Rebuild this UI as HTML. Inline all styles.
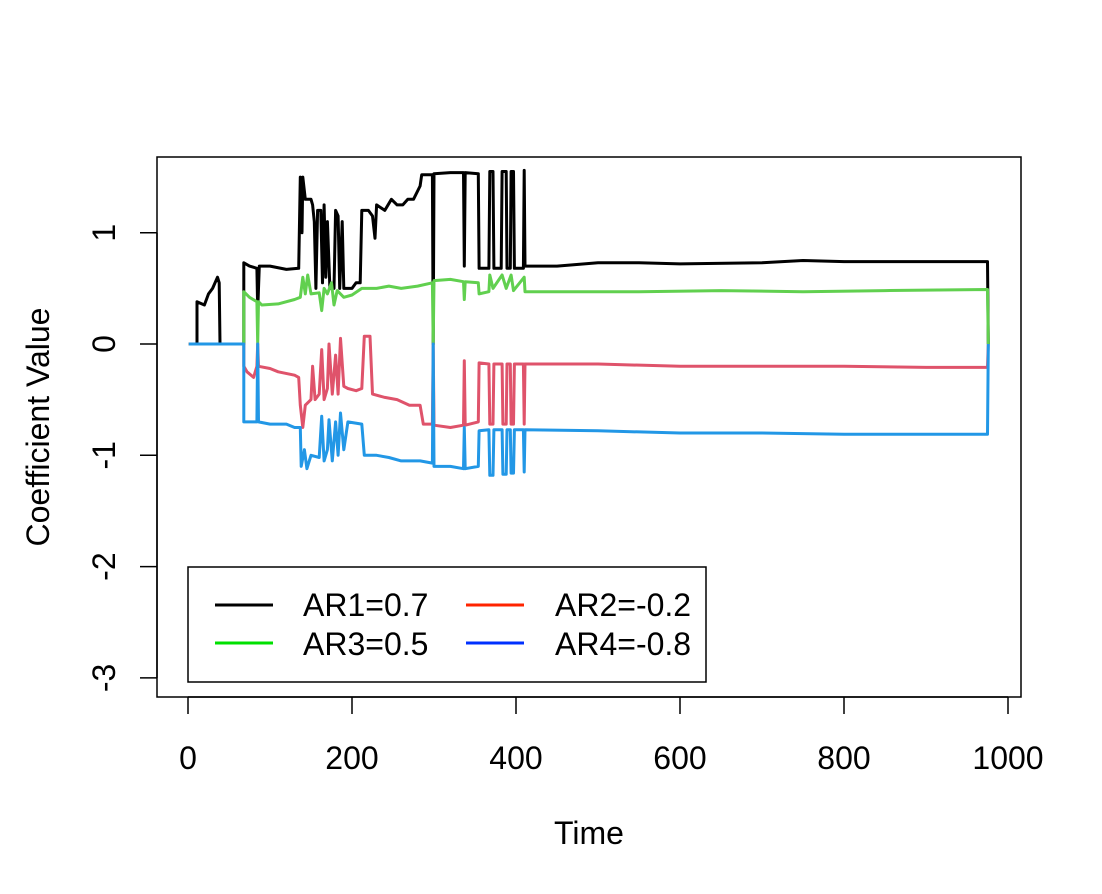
<!DOCTYPE html>
<html><head><meta charset="utf-8"><style>
html,body{margin:0;padding:0;background:#fff;}
svg{display:block;font-family:"Liberation Sans",Arial,sans-serif;}
</style></head><body>
<svg id="chart" width="1102" height="894" viewBox="0 0 1102 894" xmlns="http://www.w3.org/2000/svg">
<rect x="157" y="157" width="864" height="540" fill="none" stroke="#000" stroke-width="1.5"/>
<g id="axes"></g>
<g id="series"></g>
<text x="589" y="844" text-anchor="middle" font-size="32">Time</text>
<text transform="translate(49,427) rotate(-90)" text-anchor="middle" font-size="32">Coefficient Value</text>
<g>
<rect x="188" y="567" width="518" height="115" fill="#fff" stroke="#000" stroke-width="1.5"/>
<g><line x1="215" y1="605" x2="273" y2="605" stroke="#000" stroke-width="3"/><text x="303" y="616" font-size="32">AR1=0.7</text></g>
<g><line x1="466" y1="605" x2="524" y2="605" stroke="#FF2400" stroke-width="3"/><text x="555" y="616" font-size="32">AR2=-0.2</text></g>
<g><line x1="215" y1="643" x2="273" y2="643" stroke="#00E000" stroke-width="3"/><text x="303" y="655" font-size="32">AR3=0.5</text></g>
<g><line x1="466" y1="643" x2="524" y2="643" stroke="#0030FF" stroke-width="3"/><text x="555" y="655" font-size="32">AR4=-0.8</text></g>
</g>
</svg>
<script>
const xTicks=[0,200,400,600,800,1000];
const yTicks=[1,0,-1,-2,-3];
const ar1T=[1,11,11,20,25,30,36,38,39,68,68,75,84,85,87,100,120,135,137,139,140,143,150,152,154,156,158,162,164,166,168,170,173,178,180,183,185,188,190,200,205,210,212,220,225,228,230,240,248,255,262,268,275,283,285,298,299,300,320,336,337,338,354,355,367,368,372,373,382,383,388,389,393,394,397,398,409,410,411,450,500,550,600,700,750,800,900,975,976];
const ar1V=[0,0,0.38,0.35,0.45,0.5,0.6,0.55,0,0,0.73,0.7,0.68,0.3,0.7,0.7,0.67,0.68,1.5,1.0,1.5,1.3,1.3,1.25,1.1,0.5,1.2,1.2,0.55,1.25,0.6,1.1,0.5,0.5,1.2,1.15,0.5,1.1,0.5,0.5,0.55,0.55,1.2,1.2,1.15,0.95,1.25,1.2,1.3,1.25,1.25,1.3,1.3,1.42,1.52,1.52,0,1.53,1.54,1.54,0.7,1.54,1.53,0.68,0.68,1.55,1.55,0.68,0.68,1.55,1.55,0.68,0.68,1.55,1.55,0.68,0.68,1.56,0.7,0.7,0.73,0.73,0.72,0.73,0.75,0.74,0.74,0.74,0];
const ar3T=[1,68,68,75,84,85,86,90,110,130,137,140,143,146,150,160,163,166,170,175,178,182,190,200,212,230,245,260,280,298,299,300,320,336,337,338,354,355,367,368,372,383,388,394,397,410,411,450,550,650,750,850,975,976];
const ar3V=[0,0,0.47,0.42,0.38,0,0.38,0.35,0.36,0.4,0.42,0.6,0.45,0.62,0.45,0.46,0.3,0.5,0.45,0.55,0.35,0.48,0.42,0.44,0.5,0.5,0.52,0.5,0.52,0.55,0,0.57,0.58,0.56,0.4,0.56,0.55,0.45,0.47,0.62,0.5,0.62,0.5,0.62,0.48,0.6,0.47,0.47,0.47,0.48,0.47,0.48,0.49,0];
const ar2T=[1,68,68,72,80,84,85,86,100,110,130,135,137,140,143,150,152,155,160,163,166,170,172,176,180,183,186,190,195,205,212,215,222,225,240,255,270,283,287,298,299,300,320,336,337,338,354,355,367,368,372,373,383,384,388,389,393,394,397,398,409,410,411,500,600,700,800,900,975,976];
const ar2V=[0,0,-0.2,-0.25,-0.3,-0.2,0,-0.2,-0.22,-0.25,-0.28,-0.3,-0.55,-0.75,-0.55,-0.5,-0.2,-0.5,-0.45,-0.05,-0.5,-0.4,0,-0.45,-0.1,-0.45,0.05,-0.38,-0.4,-0.42,-0.4,0.07,0.07,-0.45,-0.48,-0.5,-0.55,-0.55,-0.72,-0.72,0,-0.73,-0.75,-0.73,-0.15,-0.73,-0.7,-0.17,-0.18,-0.72,-0.72,-0.18,-0.18,-0.72,-0.72,-0.18,-0.18,-0.72,-0.72,-0.18,-0.18,-0.72,-0.18,-0.18,-0.2,-0.2,-0.2,-0.21,-0.21,0];
const ar4T=[1,68,68,84,85,86,100,120,130,137,138,142,145,150,160,163,166,170,172,176,180,183,186,190,195,212,215,230,245,260,283,298,299,300,320,336,337,338,354,355,367,368,372,373,383,384,388,389,393,394,397,398,409,410,411,500,600,700,800,900,975,976];
const ar4V=[0,0,-0.7,-0.7,0,-0.7,-0.72,-0.72,-0.75,-0.75,-1.1,-0.95,-1.12,-1.0,-1.02,-0.65,-1.05,-0.95,-0.68,-1.05,-0.7,-1.0,-0.62,-0.95,-0.7,-0.72,-1.0,-1.0,-1.02,-1.05,-1.05,-1.07,0,-1.1,-1.1,-1.12,-0.75,-1.12,-1.1,-0.78,-0.77,-1.18,-1.18,-0.77,-0.77,-1.17,-1.17,-0.77,-0.77,-1.16,-1.16,-0.77,-0.77,-1.15,-0.77,-0.78,-0.8,-0.8,-0.81,-0.81,-0.81,0];
const NS="http://www.w3.org/2000/svg";
function sx(t){return 188+t*0.82;}
function sy(v){return 344-v*111.3;}
const axes=document.getElementById('axes');
function mk(tag,attrs,parent){const e=document.createElementNS(NS,tag);for(const k in attrs)e.setAttribute(k,attrs[k]);parent.appendChild(e);return e;}
const xa=mk('line',{x1:sx(xTicks[0]),x2:sx(xTicks[xTicks.length-1]),y1:697,y2:697,stroke:'#000','stroke-width':1.5},axes);


xTicks.forEach(t=>{
 const l=mk('line',{x1:sx(t),x2:sx(t),y1:697,y2:714,stroke:'#000','stroke-width':1.5},axes);
 
 
 const tx=mk('text',{x:sx(t),y:769,'text-anchor':'middle','font-size':32},axes);
 tx.textContent=t;
 
 
});
const ya=mk('line',{x1:157,x2:157,y1:sy(yTicks[0]),y2:sy(yTicks[yTicks.length-1]),stroke:'#000','stroke-width':1.5},axes);


yTicks.forEach(v=>{
 const l=mk('line',{x1:140,x2:157,y1:sy(v),y2:sy(v),stroke:'#000','stroke-width':1.5},axes);
 
 
 const tx=mk('text',{x:0,y:0,'text-anchor':'middle','font-size':32,transform:'translate(115,'+sy(v)+') rotate(-90)'},axes);
 tx.textContent=v;
 
 
});
const sg=document.getElementById('series');
[[ar1T,ar1V,'#000000','series-ar1'],[ar3T,ar3V,'#61D04F','series-ar3'],[ar2T,ar2V,'#DF536B','series-ar2'],[ar4T,ar4V,'#2297E6','series-ar4']].forEach(s=>{
 const pts=s[0].map((t,i)=>sx(t).toFixed(1)+','+sy(s[1][i]).toFixed(1)).join(' ');
 const p=mk('polyline',{points:pts,fill:'none',stroke:s[2],'stroke-width':3,'stroke-linejoin':'round'},sg);
 
 
});
</script>
</body></html>
